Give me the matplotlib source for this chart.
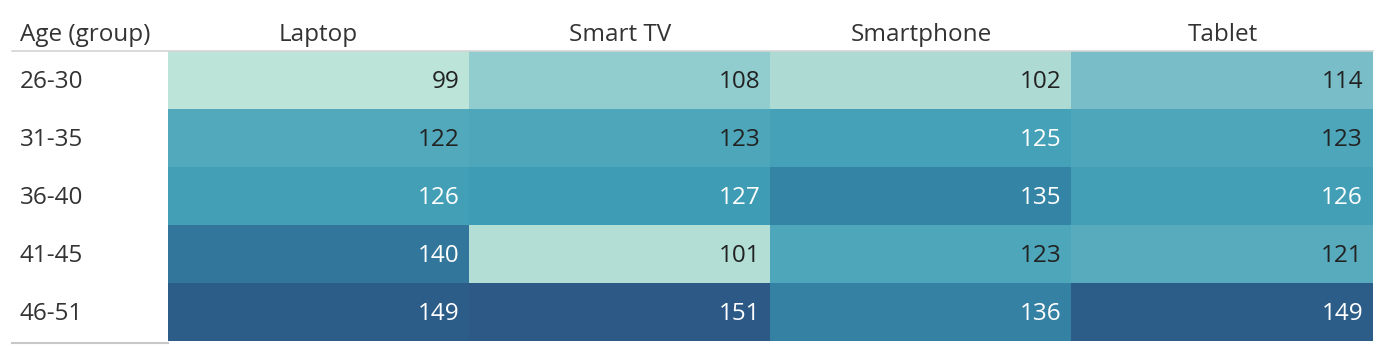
import numpy as np
import matplotlib.pyplot as plt
from matplotlib.colors import LinearSegmentedColormap, Normalize
from matplotlib.lines import Line2D

devices = ["Laptop", "Smart TV", "Smartphone", "Tablet"]
age_groups = ["26-30", "31-35", "36-40", "41-45", "46-51"]
laptop = [99, 122, 126, 140, 149]
smart_tv = [108, 123, 127, 101, 151]
smartphone = [102, 125, 135, 123, 136]
tablet = [114, 123, 126, 121, 149]

values = np.array([laptop, smart_tv, smartphone, tablet]).T

blue_teal = ['#bce4d8', '#aedcd5', '#a1d5d2', '#95cecf', '#89c8cc', '#7ec1ca',
             '#72bac6', '#66b2c2', '#59acbe', '#4ba5ba', '#419eb6', '#3b96b2',
             '#358ead', '#3586a7', '#347ea1', '#32779b', '#316f96', '#2f6790',
             '#2d608a', '#2c5985']
cmap = LinearSegmentedColormap.from_list("blue_teal", blue_teal)
norm = Normalize(vmin=values.min(), vmax=values.max())

plt.rcParams['font.family'] = ['Open Sans', 'DejaVu Sans']
W, H = 1386, 354
fig = plt.figure(figsize=(W / 100, H / 100), dpi=100)

# table geometry in pixels
left, right, top, bottom = 168, 1373, 51, 341
col_w = (right - left) / 4
row_h = (bottom - top) / 5
ax = fig.add_axes([left / W, 1 - bottom / H, (right - left) / W, (bottom - top) / H])
ax.imshow(values, cmap=cmap, norm=norm, aspect='auto', interpolation='nearest')
ax.set_axis_off()

text_dark = '#333333'
label_x = -0.5 - (left - 20) / col_w
header_y = -0.5 - 16 / row_h
dy = 2 / row_h  # nudge text a touch lower
fs = 17.5
for r in range(values.shape[0]):
    for c in range(values.shape[1]):
        v = values[r, c]
        color = 'white' if v >= 124 else '#222222'
        ax.text(c + 0.5 - 10 / col_w, r + dy, str(v), ha='right', va='center',
                fontsize=fs, color=color, clip_on=False)
    ax.text(label_x, r + dy, age_groups[r], ha='left', va='center',
            fontsize=fs, color=text_dark, clip_on=False)

for c, name in enumerate(devices):
    ax.text(c, header_y, name, ha='center', va='center', fontsize=fs,
            color=text_dark, clip_on=False)
ax.text(label_x, header_y, "Age (group)", ha='left', va='center',
        fontsize=fs, color=text_dark, clip_on=False)
ax.set_xlim(-0.5, 3.5)
ax.set_ylim(4.5, -0.5)

fig.add_artist(Line2D([12 / W, right / W], [1 - top / H, 1 - top / H],
                      color='#d4d4d4', lw=1.2))
fig.add_artist(Line2D([12 / W, left / W], [1 - 342.5 / H, 1 - 342.5 / H],
                      color='#c8c8c8', lw=1.5))

fig.savefig("out.png", dpi=100)
